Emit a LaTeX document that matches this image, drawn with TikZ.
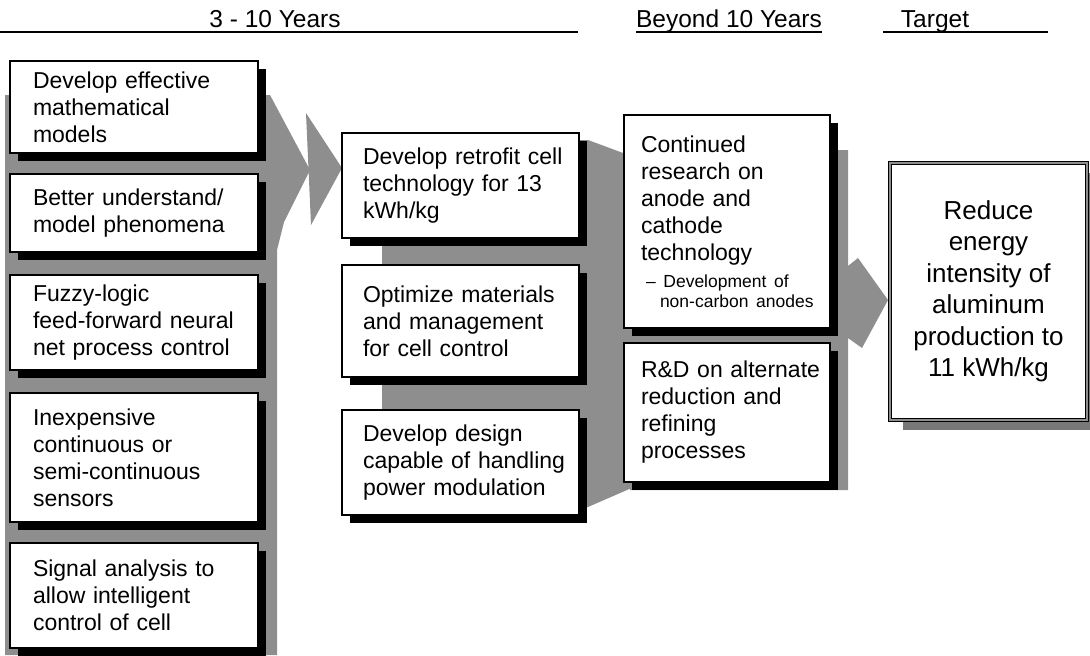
\documentclass[tikz,border=0pt]{standalone}
\usepackage{fontspec}
\setmainfont{Liberation Sans}
\usepackage{tikz}
\usetikzlibrary{shadows}
\definecolor{rmgray}{RGB}{142,142,142}
\definecolor{rmshade}{RGB}{120,120,120}
\hyphenpenalty=10000
\exhyphenpenalty=10000

\begin{document}
\begin{tikzpicture}[x=1pt, y=-1pt,
  hdr/.style={font=\fontsize{24.5}{28}\selectfont, inner sep=0pt, anchor=base},
  uline/.style={line width=1.5pt},
  band/.style={fill=rmgray},
  nbox/.style={rectangle, draw=black, line width=1.2pt, fill=white,
               align=left, inner ysep=0pt, font=\fontsize{23}{27}\selectfont,
               execute at begin node={\rightskip=0pt plus 2em minus 20pt},
               drop shadow={shadow xshift=8pt, shadow yshift=-8pt, fill=black, opacity=1}},
  cbox/.style={nbox, text width=202pt, inner xsep=23pt},
  mbox/.style={nbox, text width=195pt, inner xsep=21pt},
  rbox/.style={nbox, text width=172pt, inner xsep=17pt},
  tbox/.style={rectangle, draw=black, line width=0.8pt, double=rmgray, double distance=2.5pt,
               fill=white, align=center, minimum width=197pt, minimum height=257pt,
               font=\fontsize{26}{31.5}\selectfont,
               drop shadow={shadow xshift=13pt, shadow yshift=-10pt, fill=rmshade, opacity=1}}
]
\useasboundingbox (0,0) rectangle (1090,656);

% Headings
\node[hdr] (ny) at (275,27) {3 - 10 Years};
\node[hdr] (by) at (729,27) {Beyond 10 Years};
\node[hdr] (tg) at (935,27) {Target};
\draw[uline] (0,32) -- (578,32);
\draw[uline] ([yshift=-5pt]by.base west) -- ([yshift=-5pt]by.base east);
\draw[uline] (883,32) -- (1048,32);

% Grey block arrows
\fill[band] (5,95) -- (270,95) -- (310,170) -- (284,222) -- (277,250) -- (277,655) -- (5,655) -- cycle;
\fill[band] (306,113) -- (342,168) -- (311,225) -- cycle;
\fill[band] (382,140) -- (588,140) -- (650,163) -- (650,480) -- (588,507) -- (382,507) -- cycle;
\fill[band] (630,150) -- (848,150) -- (848,266) -- (858,258) -- (888,300) -- (862,348)
  -- (848,338) -- (848,490) -- (630,490) -- cycle;

% 3 - 10 years, first column
\node[cbox, minimum height=92pt]  (mdl) at (134,107)   {Develop effective\\mathematical\\models};
\node[cbox, minimum height=78pt]  (phn) at (134,213)   {Better understand/\\model phenomena};
\node[cbox, minimum height=95pt]  (fzl) at (134,322.5) {Fuzzy-logic\\feed-forward neural\\net process control};
\node[cbox, minimum height=129pt] (sns) at (134,457.5) {Inexpensive\\continuous or\\semi-continuous\\sensors};
\node[cbox, minimum height=105pt] (sig) at (134,595.5) {Signal analysis to\\allow intelligent\\control of cell};

% 3 - 10 years, second column
\node[mbox, minimum height=105pt] (rtf) at (460.5,185.5) {Develop retrofit cell\\technology for 13\\kWh/kg};
\node[mbox, minimum height=112pt] (opt) at (460.5,321)   {Optimize materials\\and management\\for cell control};
\node[mbox, minimum height=105pt] (pwr) at (460.5,462.5) {Develop design\\capable of handling\\power modulation};

% Beyond 10 years
\node[rbox, minimum height=213pt] (cra) at (727,221.5)
  {Continued\\research on\\anode and\\cathode\\technology\par\vspace{7pt}%
   {\fontsize{17.5}{20}\selectfont\hspace*{5pt}\textendash\ Development of\\\hspace*{19pt}non-carbon anodes\par}};
\node[rbox, minimum height=139pt] (alt) at (727,412.5) {R\&D on alternate\\reduction and\\refining\\processes};

% Target
\node[tbox] (tgt) at (988.5,291.5) {Reduce\\energy\\intensity of\\aluminum\\production to\\11 kWh/kg};
\end{tikzpicture}
\end{document}
